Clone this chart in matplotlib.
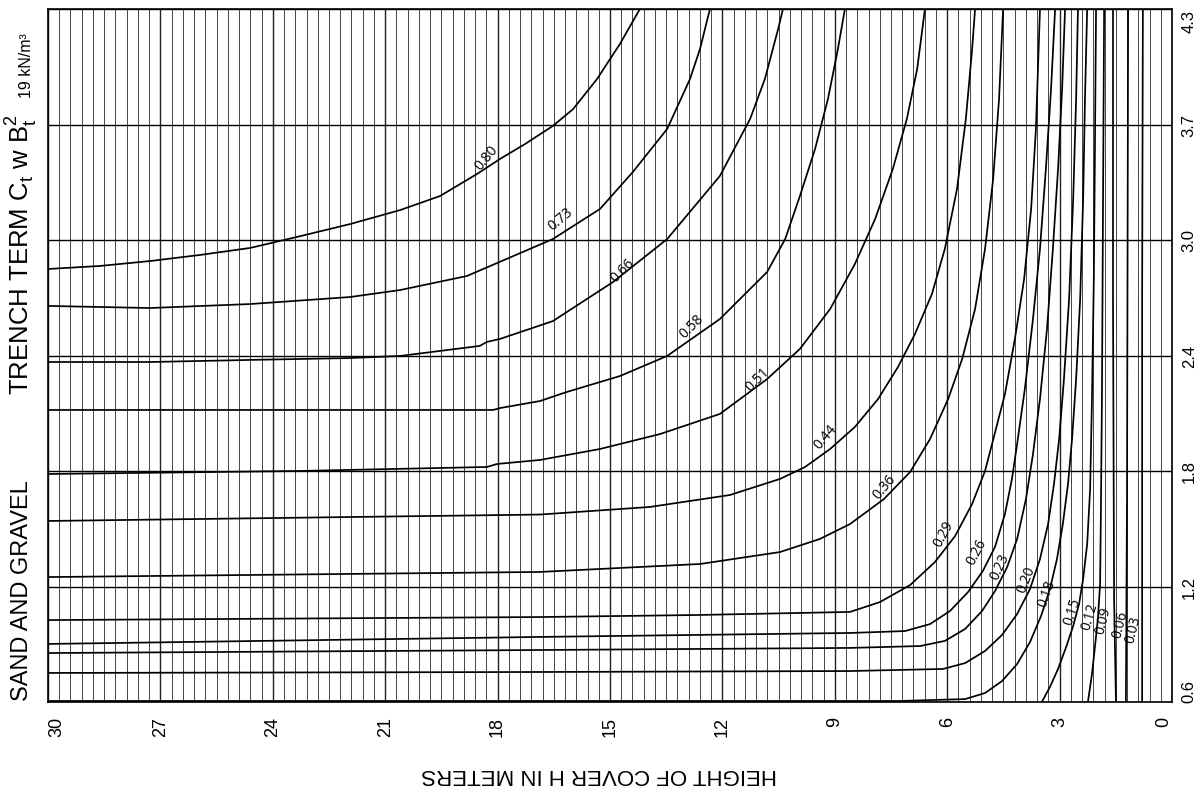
import numpy as np
import matplotlib
matplotlib.use("Agg")
import matplotlib.pyplot as plt

# curve values (C_t w B_t^2) and their traced points: H (m), B (m)
values = ["0.80", "0.73", "0.66", "0.58", "0.51", "0.44", "0.36", "0.29", "0.26",
          "0.23", "0.20", "0.18", "0.15", "0.12", "0.09", "0.06", "0.03"]

h_080 = [30.48, 29.07, 27.71, 26.36, 25.00, 23.73, 22.29, 20.93, 19.85, 18.85, 18.22, 17.54, 16.79, 16.24, 15.59, 14.97, 14.43]
b_080 = [2.895, 2.911, 2.937, 2.969, 3.006, 3.064, 3.132, 3.206, 3.280, 3.396, 3.476, 3.555, 3.650, 3.739, 3.898, 4.083, 4.267]
h_073 = [30.48, 27.71, 25.00, 22.29, 20.93, 19.12, 16.79, 15.51, 14.62, 13.69, 13.07, 12.80, 12.53]
b_073 = [2.700, 2.689, 2.710, 2.747, 2.784, 2.858, 3.053, 3.212, 3.407, 3.634, 3.898, 4.056, 4.267]
h_066 = [30.48, 27.71, 25.00, 22.29, 20.93, 18.77, 18.58, 18.22, 16.79, 15.16, 13.69, 12.26, 11.44, 11.04, 10.68, 10.55]
b_066 = [2.404, 2.404, 2.415, 2.425, 2.436, 2.489, 2.510, 2.526, 2.620, 2.826, 3.053, 3.386, 3.687, 3.898, 4.162, 4.267]
h_058 = [30.48, 18.41, 18.22, 17.14, 16.41, 14.97, 13.69, 12.26, 10.98, 10.49, 10.09, 9.68, 9.33, 9.06, 8.87]
b_058 = [2.151, 2.151, 2.161, 2.198, 2.246, 2.330, 2.436, 2.631, 2.879, 3.053, 3.280, 3.528, 3.792, 4.056, 4.267]
h_051 = [30.48, 23.65, 18.58, 18.30, 17.14, 15.51, 13.88, 12.26, 10.98, 10.09, 9.27, 8.60, 8.05, 7.57, 7.19, 6.91, 6.70]
b_051 = [1.813, 1.829, 1.850, 1.866, 1.887, 1.945, 2.024, 2.130, 2.314, 2.473, 2.684, 2.921, 3.159, 3.423, 3.687, 3.951, 4.267]
h_044 = [30.48, 17.14, 14.16, 11.99, 10.63, 9.95, 9.27, 8.60, 7.97, 7.43, 6.97, 6.51, 6.16, 5.83, 5.59, 5.42, 5.34]
b_044 = [1.565, 1.599, 1.639, 1.702, 1.787, 1.850, 1.945, 2.061, 2.209, 2.378, 2.552, 2.763, 3.001, 3.317, 3.687, 4.056, 4.267]
h_036 = [30.48, 17.14, 12.80, 10.63, 9.55, 8.73, 7.81, 7.10, 6.56, 6.07, 5.69, 5.34, 5.07, 4.85, 4.69, 4.58]
b_036 = [1.269, 1.296, 1.338, 1.401, 1.470, 1.549, 1.681, 1.824, 1.998, 2.209, 2.420, 2.684, 3.001, 3.370, 3.792, 4.267]
h_029 = [30.48, 17.14, 12.80, 8.73, 7.92, 7.10, 6.43, 5.88, 5.42, 5.07, 4.88, 4.53, 4.26, 4.01, 3.82, 3.69, 3.58]
b_029 = [1.042, 1.058, 1.069, 1.085, 1.137, 1.227, 1.348, 1.486, 1.655, 1.829, 1.971, 2.235, 2.526, 2.842, 3.212, 3.634, 4.267]
h_026 = [30.48, 17.14, 8.73, 7.24, 6.56, 6.02, 5.53, 5.13, 4.80, 4.53, 4.34, 4.20, 3.99, 3.77, 3.58, 3.42, 3.28, 3.17]
b_026 = [0.916, 0.953, 0.974, 0.984, 1.021, 1.090, 1.190, 1.301, 1.428, 1.602, 1.787, 1.971, 2.262, 2.631, 3.001, 3.423, 3.845, 4.267]
h_023 = [30.48, 17.14, 8.73, 6.83, 6.16, 5.61, 5.15, 4.80, 4.47, 4.20, 3.96, 3.77, 3.58, 3.39, 3.23, 3.09, 2.98, 2.90]
b_023 = [0.868, 0.884, 0.895, 0.905, 0.932, 0.995, 1.090, 1.195, 1.322, 1.470, 1.681, 1.918, 2.209, 2.578, 3.001, 3.423, 3.845, 4.267]
h_020 = [30.48, 17.14, 8.73, 6.21, 5.61, 5.07, 4.61, 4.20, 3.85, 3.58, 3.36, 3.20, 3.06, 2.93, 2.79, 2.68, 2.60, 2.55]
b_020 = [0.763, 0.768, 0.773, 0.784, 0.815, 0.879, 0.963, 1.074, 1.206, 1.364, 1.549, 1.760, 1.998, 2.314, 2.737, 3.264, 3.792, 4.267]
h_018 = [30.48, 7.38, 5.61, 5.07, 4.61, 4.20, 3.85, 3.55, 3.31, 3.12, 2.96, 2.82, 2.71, 2.60, 2.49, 2.41, 2.36, 2.30]
b_018 = [0.615, 0.615, 0.625, 0.657, 0.720, 0.810, 0.926, 1.064, 1.206, 1.364, 1.549, 1.760, 1.998, 2.314, 2.737, 3.264, 3.792, 4.267]
h_015 = [3.53, 3.31, 3.09, 2.87, 2.68, 2.52, 2.41, 2.30, 2.22, 2.17, 2.12, 2.09, 2.06]
b_015 = [0.610, 0.689, 0.784, 0.900, 1.011, 1.127, 1.259, 1.444, 1.734, 2.209, 2.842, 3.528, 4.267]
h_012 = [2.28, 2.17, 2.09, 2.01, 1.95, 1.93, 1.90, 1.87, 1.84]
b_012 = [0.610, 0.757, 0.900, 1.048, 1.232, 1.576, 2.209, 3.264, 4.267]
h_009 = [1.52, 1.57, 1.60, 1.60]
b_009 = [0.610, 1.153, 2.737, 4.267]
h_006 = [1.25, 1.22, 1.19]
b_006 = [0.610, 1.681, 4.267]
h_003 = [0.81, 0.81, 0.79]
b_003 = [0.610, 2.737, 4.267]

curves_h = [h_080, h_073, h_066, h_058, h_051, h_044, h_036, h_029, h_026,
            h_023, h_020, h_018, h_015, h_012, h_009, h_006, h_003]
curves_b = [b_080, b_073, b_066, b_058, b_051, b_044, b_036, b_029, b_026,
            b_023, b_020, b_018, b_015, b_012, b_009, b_006, b_003]

# label anchors (H, B) and angles
label_h = [18.60, 16.57, 14.89, 13.04, 11.25, 9.41, 7.81, 6.18, 5.31, 4.66, 3.96, 3.39, 2.71, 2.22, 1.87, 1.41, 1.06]
label_b = [3.486, 3.159, 2.890, 2.594, 2.314, 2.014, 1.750, 1.502, 1.407, 1.327, 1.259, 1.185, 1.090, 1.064, 1.042, 1.021, 0.995]
label_rot = [50, 40, 45, 45, 45, 50, 50, 62, 62, 65, 68, 70, 72, 74, 76, 76, 76]

# axes ticks: H every 10 ft, B every 2 ft (labels in metres)
ft = 0.3048
h_ticks = [k * 10 * ft for k in range(11)]
h_labels = ["0", "3", "6", "9", "12", "15", "18", "21", "24", "27", "30"]
b_ticks = [k * 2 * ft for k in range(1, 8)]
b_labels = ["0.6", "1.2", "1.8", "2.4", "3.0", "3.7", "4.3"]

sans = ["Liberation Sans", "DejaVu Sans"]

fig = plt.figure(figsize=(11.99, 8.04), dpi=100)
ax = fig.add_axes([48 / 1199, 101 / 804, 1124 / 1199, 693 / 804])

ax.set_xlim(100 * ft, 0)
ax.set_ylim(2 * ft, 14 * ft)

ax.set_xticks(h_ticks)
ax.set_xticks([k * ft for k in range(101)], minor=True)
ax.set_yticks(b_ticks)
ax.grid(which="major", axis="x", color="#222222", lw=1.0)
ax.grid(which="minor", axis="x", color="#444444", lw=0.7)
ax.grid(which="major", axis="y", color="black", lw=1.0)
ax.set_axisbelow(True)
ax.tick_params(which="both", length=0)

ax.set_xticklabels(h_labels, rotation=90, fontsize=13, family=sans)
ax.tick_params(axis="x", pad=10)
xl = ax.get_xticklabels()
xl[0].set_ha("right")
xl[-1].set_ha("left")

ax.yaxis.tick_right()
ax.set_yticklabels(b_labels, rotation=90, fontsize=12, family=sans, va="center")
ax.tick_params(axis="y", pad=7)
yl = ax.get_yticklabels()
yl[0].set_va("bottom")
yl[-1].set_va("top")

for s in ax.spines.values():
    s.set_color("black")
    s.set_linewidth(1.2)

for h, b in zip(curves_h, curves_b):
    ax.plot(h, b, color="black", lw=1.25, solid_joinstyle="round", solid_capstyle="round")

for v, lh, lb, r in zip(values, label_h, label_b, label_rot):
    ax.text(lh, lb, v, rotation=r, fontsize=10, family=["Open Sans", "DejaVu Sans"],
            ha="center", va="center", rotation_mode="anchor")

fig.text(0.018, 1 - 591 / 804, "SAND AND GRAVEL", rotation=90, fontsize=17,
         family=sans, ha="center", va="center")
fig.text(0.018, 1 - 255 / 804, r"TRENCH TERM C$_\mathregular{t}$ w B$^\mathregular{2}_\mathregular{t}$",
         rotation=90, fontsize=18.5, family=sans, ha="center", va="center")
fig.text(0.022, 1 - 66 / 804, "19 kN/m\u00b3", rotation=90, fontsize=11.5,
         family=sans, ha="center", va="center")
fig.text(0.5, 1 - 775 / 804, "HEIGHT OF COVER H IN METERS", rotation=180, fontsize=16,
         family=sans, ha="center", va="center")

fig.savefig("out.png", dpi=100)
